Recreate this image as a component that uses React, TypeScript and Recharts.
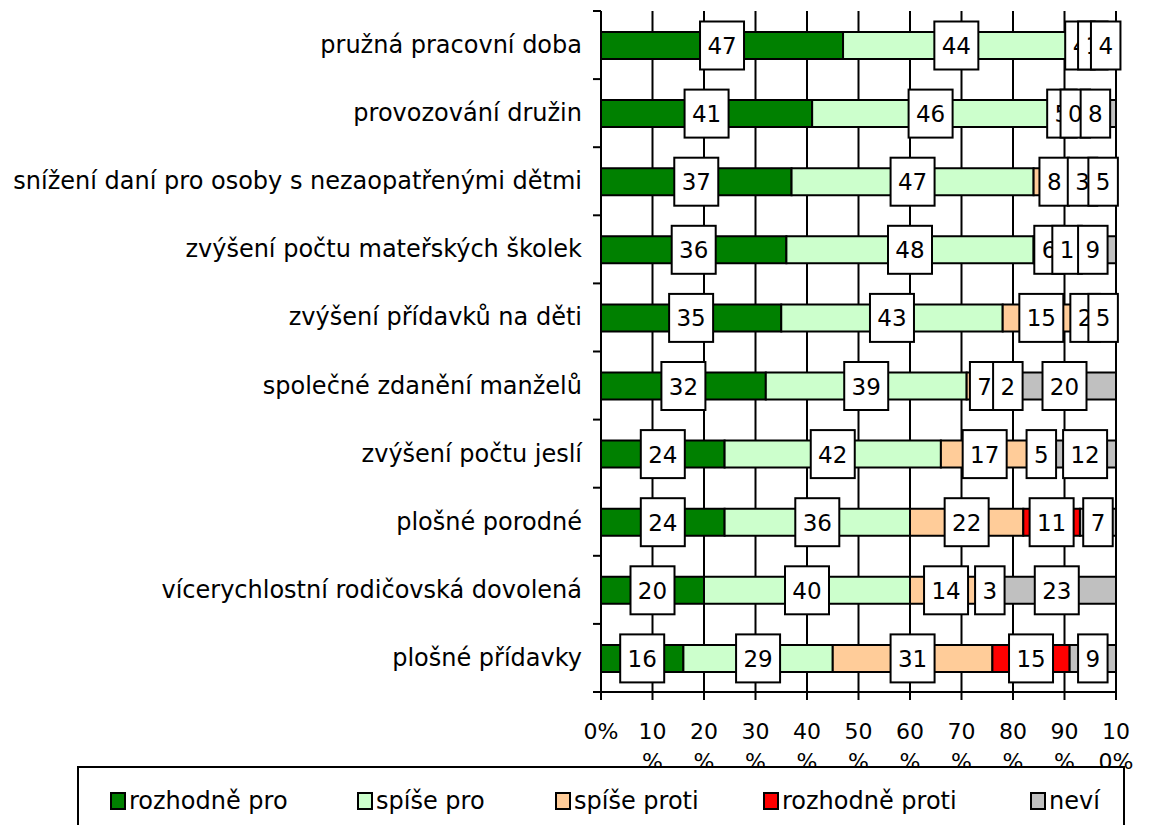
import React from 'react';
import {
  BarChart,
  Bar,
  XAxis,
  YAxis,
  CartesianGrid,
  LabelList,
} from 'recharts';

const categories = [
  'pružná pracovní doba',
  'provozování družin',
  'snížení daní pro osoby s nezaopatřenými dětmi',
  'zvýšení počtu mateřských školek',
  'zvýšení přídavků na děti',
  'společné zdanění manželů',
  'zvýšení počtu jeslí',
  'plošné porodné',
  'vícerychlostní rodičovská dovolená',
  'plošné přídavky',
];

const rozhodnePro = [47, 41, 37, 36, 35, 32, 24, 24, 20, 16];
const spisePro = [44, 46, 47, 48, 43, 39, 42, 36, 40, 29];
const spiseProti = [4, 5, 8, 6, 15, 7, 17, 22, 14, 31];
const rozhodneProti = [1, 0, 3, 1, 2, 2, 5, 11, 3, 15];
const nevi = [4, 8, 5, 9, 5, 20, 12, 7, 23, 9];

const xTicks = [0, 10, 20, 30, 40, 50, 60, 70, 80, 90, 100];

const seriesDefs = [
  { key: 'rozhodnePro', name: 'rozhodně pro', color: '#008000' },
  { key: 'spisePro', name: 'spíše pro', color: '#CCFFCC' },
  { key: 'spiseProti', name: 'spíše proti', color: '#FFCC99' },
  { key: 'rozhodneProti', name: 'rozhodně proti', color: '#FF0000' },
  { key: 'nevi', name: 'neví', color: '#C0C0C0' },
];

const data = categories.map((name, i) => ({
  name,
  rozhodnePro: rozhodnePro[i],
  spisePro: spisePro[i],
  spiseProti: spiseProti[i],
  rozhodneProti: rozhodneProti[i],
  nevi: nevi[i],
}));

const W = 1155;
const H = 825;
const X_AXIS_H = 30;
const M = { top: 11, right: 39, bottom: 825 - 692 - X_AXIS_H, left: 0 };
const FONT = '"DejaVu Sans", Verdana, sans-serif';
const band = (H - M.top - M.bottom - X_AXIS_H) / categories.length;
const legendLeft = [110, 357, 555, 763, 1030];

// white boxed value label, like the excel data labels
const BoxLabel = (props: any) => {
  const { x, y, width, height, value } = props;
  const cx = x + width / 2;
  const cy = y + height / 2;
  const w = String(value).length * 14.5 + 15;
  return (
    <g>
      <rect x={cx - w / 2} y={cy - 24} width={w} height={48} fill="#fff" stroke="#000" strokeWidth={2} />
      <text x={cx} y={cy + 8.5} textAnchor="middle" fontSize={23} fontFamily={FONT} fill="#000">
        {value}
      </text>
    </g>
  );
};

const CatTick = (props: any) => {
  const { x, y, payload, index } = props;
  const last = index === categories.length - 1;
  return (
    <g>
      <text x={x - 19} y={y + 8} textAnchor="end" fontSize={24} fontFamily={FONT} fill="#000">
        {payload.value}
      </text>
      <line x1={x - 8} x2={x} y1={y - band / 2} y2={y - band / 2} stroke="#000" strokeWidth={2} />
      {last && <line x1={x - 8} x2={x} y1={y + band / 2} y2={y + band / 2} stroke="#000" strokeWidth={2} />}
    </g>
  );
};

const PctTick = (props: any) => {
  const { x, y, payload } = props;
  const v = payload.value;
  const lines = v === 0 ? ['0%'] : v === 100 ? ['10', '0%'] : [String(v), '%'];
  return (
    <text x={x} y={y} textAnchor="middle" fontSize={22} fontFamily={FONT} fill="#000">
      {lines.map((l, i) => (
        <tspan key={i} x={x} dy={i === 0 ? 39 : 30}>
          {l}
        </tspan>
      ))}
    </text>
  );
};

export default function App() {
  return (
    <div style={{ position: 'absolute', left: 0, top: 0, width: W, height: H, background: '#fff', overflow: 'hidden' }}>
      <BarChart width={W} height={H} data={data} layout="vertical" margin={M} barSize={27}>
        <CartesianGrid horizontal={false} stroke="#000" strokeWidth={2} />
        <XAxis
          type="number"
          domain={[0, 100]}
          ticks={xTicks}
          interval={0}
          height={X_AXIS_H}
          tick={<PctTick />}
          tickSize={8}
          tickMargin={0}
          axisLine={{ stroke: '#000', strokeWidth: 2 }}
          tickLine={{ stroke: '#000', strokeWidth: 2 }}
        />
        <XAxis
          xAxisId="top"
          orientation="top"
          type="number"
          domain={[0, 100]}
          height={0}
          tick={false}
          tickLine={false}
          axisLine={{ stroke: '#808080', strokeWidth: 2 }}
        />
        <YAxis
          type="category"
          dataKey="name"
          width={601}
          tickSize={0}
          tickMargin={0}
          tickLine={false}
          interval={0}
          tick={<CatTick />}
          axisLine={{ stroke: '#000', strokeWidth: 2 }}
        />
        <YAxis
          yAxisId="right"
          orientation="right"
          type="category"
          dataKey="name"
          width={0}
          tick={false}
          tickLine={false}
          axisLine={{ stroke: '#808080', strokeWidth: 2 }}
        />
        {seriesDefs.map((s) => (
          <Bar
            key={s.key}
            dataKey={s.key}
            name={s.name}
            stackId="a"
            fill={s.color}
            stroke="#000"
            strokeWidth={2}
            minPointSize={1}
            isAnimationActive={false}
          >
            <LabelList dataKey={s.key} content={<BoxLabel />} />
          </Bar>
        ))}
      </BarChart>
      <div
        style={{
          position: 'absolute',
          left: 77,
          top: 766,
          width: 1048,
          height: 90,
          border: '2px solid #000',
          background: '#fff',
          boxSizing: 'border-box',
          fontFamily: FONT,
          fontSize: 24,
        }}
      >
        {seriesDefs.map((s, i) => (
          <div
            key={s.key}
            style={{ position: 'absolute', left: legendLeft[i] - 79, top: 19, display: 'flex', alignItems: 'center', whiteSpace: 'nowrap' }}
          >
            <span
              style={{
                display: 'inline-block',
                width: 12,
                height: 14,
                background: s.color,
                border: '2px solid #000',
                marginRight: 3,
              }}
            />
            <span>{s.name}</span>
          </div>
        ))}
      </div>
    </div>
  );
}
